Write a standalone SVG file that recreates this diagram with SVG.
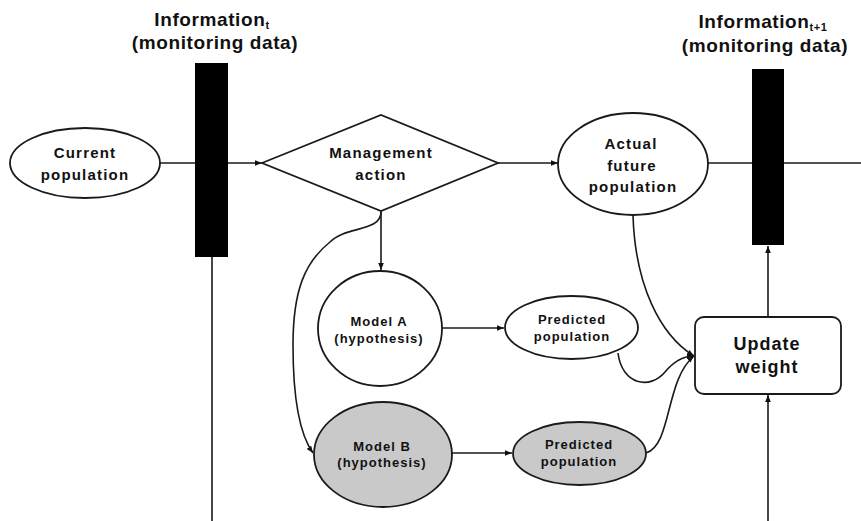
<svg xmlns="http://www.w3.org/2000/svg" width="861" height="521" viewBox="0 0 861 521">
<defs>
<marker id="ah" viewBox="0 0 10 10" refX="10" refY="5" markerWidth="7" markerHeight="7" markerUnits="userSpaceOnUse" orient="auto">
<path d="M0,1 L10,5 L0,9 z" fill="#111"/>
</marker>
</defs>
<style>
.ln{fill:none;stroke:#1a1a1a;stroke-width:1.6}
.nd{fill:#fff;stroke:#1a1a1a;stroke-width:1.8}
.gr{fill:#c9c9c9;stroke:#1a1a1a;stroke-width:1.8}
.bar{fill:#000}
text{font-family:"Liberation Sans",Arial,sans-serif;font-weight:bold;fill:#111;text-anchor:middle}
.tt{font-size:19px;letter-spacing:0.6px}
.mt{font-size:15px;letter-spacing:1.2px}
.sm{font-size:13px;letter-spacing:1px}
.uw{font-size:18px;letter-spacing:1px}
</style>
<rect width="861" height="521" fill="#fff"/>
<g id="connectors">
<path class="ln" d="M160,163 L262,163" marker-end="url(#ah)"/>
<path class="ln" d="M498,163 L558,163" marker-end="url(#ah)"/>
<path class="ln" d="M708,163 L861,163"/>
<path class="ln" d="M212,257 L212,521"/>
<path class="ln" d="M381,211 L381,270" marker-end="url(#ah)"/>
<path class="ln" d="M381,212 C381,232 345,226 330,242 C305,262 293,290 293,345 C293,400 300,435 313,453" marker-end="url(#ah)"/>
<path class="ln" d="M442,328 L504,328" marker-end="url(#ah)"/>
<path class="ln" d="M452,453 L512,453" marker-end="url(#ah)"/>
<path class="ln" d="M633,215 C635,285 660,335 694,356" marker-end="url(#ah)"/>
<path class="ln" d="M618,353 C622,385 650,390 665,372 C675,360 685,356 694,356" marker-end="url(#ah)"/>
<path class="ln" d="M646,453 C672,445 665,380 694,356" marker-end="url(#ah)"/>
<path class="ln" d="M768,317 L768,246" marker-end="url(#ah)"/>
<path class="ln" d="M768,521 L768,395" marker-end="url(#ah)"/>
</g>
<g id="info-t">
<rect class="bar" x="195" y="63" width="33" height="194"/>
<text class="tt" x="212" y="26">Information<tspan font-size="11" dy="3">t</tspan></text>
<text class="tt" x="215" y="49">(monitoring data)</text>
</g>
<g id="info-t1">
<rect class="bar" x="752" y="69" width="32" height="176"/>
<text class="tt" x="763" y="28">Information<tspan font-size="11" dy="3">t+1</tspan></text>
<text class="tt" x="765" y="52">(monitoring data)</text>
</g>
<g id="current-population">
<ellipse class="nd" cx="85" cy="163" rx="75" ry="35"/>
<text class="mt" x="85" y="158">Current</text>
<text class="mt" x="85" y="180">population</text>
</g>
<g id="management-action">
<polygon class="nd" points="262,163 381,115 498,163 381,211"/>
<text class="mt" x="381" y="158">Management</text>
<text class="mt" x="381" y="180">action</text>
</g>
<g id="actual-future-population">
<ellipse class="nd" cx="633" cy="164" rx="75" ry="51"/>
<text class="mt" x="631" y="149">Actual</text>
<text class="mt" x="632" y="171">future</text>
<text class="mt" x="633" y="192">population</text>
</g>
<g id="model-a">
<ellipse class="nd" cx="380" cy="328.5" rx="62" ry="57.5"/>
<text class="sm" x="379" y="326">Model A</text>
<text class="sm" x="379" y="343">(hypothesis)</text>
</g>
<g id="model-b">
<ellipse class="gr" cx="383" cy="454.5" rx="69" ry="52.5"/>
<text class="sm" x="382" y="451">Model B</text>
<text class="sm" x="382" y="467">(hypothesis)</text>
</g>
<g id="predicted-a">
<ellipse class="nd" cx="571.5" cy="327.5" rx="66.5" ry="31.5"/>
<text class="sm" x="572" y="324">Predicted</text>
<text class="sm" x="572" y="341">population</text>
</g>
<g id="predicted-b">
<ellipse class="gr" cx="579.5" cy="453.5" rx="66.5" ry="31.5"/>
<text class="sm" x="579" y="449">Predicted</text>
<text class="sm" x="579" y="466">population</text>
</g>
<g id="update-weight">
<rect class="nd" x="695" y="317" width="146" height="77" rx="9"/>
<text class="uw" x="767" y="350">Update</text>
<text class="uw" x="767" y="373">weight</text>
</g>
</svg>
